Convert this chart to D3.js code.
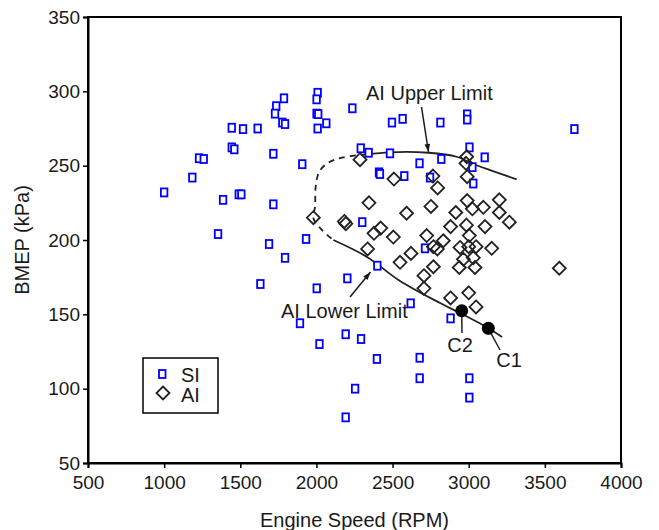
<!DOCTYPE html>
<html>
<head>
<meta charset="utf-8">
<script src="https://cdn.jsdelivr.net/npm/d3@7"></script>
<style>
  html, body { margin: 0; padding: 0; background: #fff; }
  svg text { font-family: "Liberation Sans", Arial, sans-serif; fill: #1a1a1a; }
</style>
</head>
<body>
<svg id="chart" width="659" height="530"></svg>
<script>
// SI engine operating points [rpm, bmep kPa]
const siPoints = [
  [1000, 232], [1185, 242], [1229, 255], [1260, 254.5], [1354, 204], [1387, 227],
  [1444, 275.5], [1444, 262.3], [1461, 261], [1490, 230.7], [1507, 230.7], [1518, 274.6],
  [1614, 275], [1632, 170.4], [1689, 197.3], [1717, 258], [1717, 224], [1736, 290],
  [1728, 285], [1776, 279], [1794, 278], [1787, 295.3], [1794, 188], [1892, 144],
  [1907, 251], [1932, 200.7], [2002, 167.5], [2008, 299], [2001, 294.6], [2001, 285],
  [2012, 284.7], [2008, 275], [2020, 130], [2065, 278.5], [2192, 136.6], [2192, 80.7],
  [2203, 174.2], [2236, 288.6], [2254, 100], [2291, 261.7], [2293, 133.4], [2301, 212],
  [2343, 258.7], [2397, 120], [2400, 182.7], [2411, 245.5], [2417, 244.4], [2483, 258.3],
  [2496, 279], [2566, 281.5], [2577, 243], [2619, 157.4], [2677, 251.6], [2678, 120.8],
  [2678, 107], [2713, 194.4], [2746, 242], [2814, 279], [2820, 254.5], [2881, 147.3],
  [2990, 284.5], [2990, 281], [3005, 262.3], [3004, 107], [3004, 94], [3024, 249],
  [3030, 238], [3105, 255.6], [3694, 274.6]
];

// AI (HCCI) operating points
const aiPoints = [
  [1980, 215], [2183, 212.5], [2193, 211], [2286, 254], [2336, 194], [2345, 225],
  [2378, 204.5], [2422, 208], [2505, 202], [2509, 241], [2549, 185], [2592, 218],
  [2621, 191], [2706, 176], [2706, 167.5], [2724, 203], [2752, 222.6], [2765, 243],
  [2768, 195.5], [2768, 182], [2796, 235], [2794, 194], [2833, 199.5], [2881, 209],
  [2881, 161], [2915, 218.5], [2943, 195], [2938, 181.5], [2965, 187], [2987, 256],
  [2982, 251.6], [2990, 242.6], [2990, 226.5], [2985, 210], [3004, 203], [3000, 195.5],
  [3000, 164.5], [3024, 221], [3030, 188], [3041, 181.5], [3048, 195.5], [3048, 155],
  [3096, 222], [3107, 209], [3151, 194.4], [3201, 227], [3201, 218.5], [3267, 212],
  [3595, 181]
];

// AI boundary lines
const upperLimit = [
  [2330, 257.6], [2483, 259], [2735, 258.7], [2921, 256], [3030, 251.1], [3140, 247], [3315, 240.8]
];
const dashedLimit = [
  [2330, 257.6], [2177, 255.6], [2078, 252], [2019, 246], [1995, 235.8], [1991, 222.4],
  [1980, 214.6], [2037, 206.7], [2111, 200]
];
const lowerLimit = [
  [2111, 200], [2332, 188.6], [2549, 172.4], [2812, 157.6], [2956, 150.2], [3127, 140.8], [3219, 134.7]
];

// marked cases
const casePoints = [
  { name: "C1", rpm: 3129, bmep: 140.6 },
  { name: "C2", rpm: 2954, bmep: 152.4 }
];

const xTicks = [500, 1000, 1500, 2000, 2500, 3000, 3500, 4000];
const yTicks = [50, 100, 150, 200, 250, 300, 350];

const svg = d3.select("#chart");
const margin = { left: 88, top: 17, right: 38, bottom: 67 };
const width = 659 - margin.left - margin.right;
const height = 530 - margin.top - margin.bottom;

const x = d3.scaleLinear().domain([500, 4000]).range([margin.left, margin.left + width]);
const y = d3.scaleLinear().domain([50, 350]).range([margin.top + height, margin.top]);

const defs = svg.append("defs");
defs.append("marker")
  .attr("id", "arrow")
  .attr("viewBox", "0 0 10 10")
  .attr("refX", 10)
  .attr("refY", 5)
  .attr("markerWidth", 14)
  .attr("markerHeight", 8)
  .attr("markerUnits", "userSpaceOnUse")
  .attr("orient", "auto")
  .append("path")
  .attr("d", "M0,1.5 L10,5 L0,8.5 Z")
  .attr("fill", "#1a1a1a");

// frame
svg.append("rect")
  .attr("x", margin.left)
  .attr("y", margin.top)
  .attr("width", width)
  .attr("height", height)
  .attr("fill", "none")
  .attr("stroke", "#000")
  .attr("stroke-width", 2);

const xAxis = svg.append("g")
  .attr("transform", `translate(0, ${margin.top + height})`)
  .call(d3.axisBottom(x).tickValues(xTicks).tickSize(5).tickPadding(8).tickFormat(d3.format("d")));
const yAxis = svg.append("g")
  .attr("transform", `translate(${margin.left}, 0)`)
  .call(d3.axisLeft(y).tickValues(yTicks).tickSize(5).tickPadding(3).tickFormat(d3.format("d")));

[xAxis, yAxis].forEach((a) => {
  a.select(".domain").attr("stroke-width", 2);
  a.selectAll(".tick line").attr("stroke-width", 1.5);
  a.selectAll(".tick text").attr("font-size", 19).attr("fill", "#1a1a1a")
    .style("font-family", "Liberation Sans, Arial, sans-serif");
});

svg.append("text")
  .attr("x", margin.left + width / 2)
  .attr("y", 527)
  .attr("text-anchor", "middle")
  .attr("font-size", 20)
  .text("Engine Speed (RPM)");

svg.append("text")
  .attr("transform", `translate(29, ${margin.top + height / 2}) rotate(-90)`)
  .attr("text-anchor", "middle")
  .attr("font-size", 20)
  .text("BMEP (kPa)");

// AI region boundary
const line = d3.line()
  .x((d) => x(d[0]))
  .y((d) => y(d[1]))
  .curve(d3.curveCatmullRom.alpha(0.5));

svg.append("path").datum(upperLimit).attr("d", line)
  .attr("fill", "none").attr("stroke", "#222").attr("stroke-width", 1.8);
svg.append("path").datum(dashedLimit).attr("d", line)
  .attr("fill", "none").attr("stroke", "#222").attr("stroke-width", 1.8)
  .attr("stroke-dasharray", "6,5");
svg.append("path").datum(lowerLimit).attr("d", line)
  .attr("fill", "none").attr("stroke", "#222").attr("stroke-width", 1.8);

// SI squares
svg.append("g")
  .selectAll("rect")
  .data(siPoints)
  .enter()
  .append("rect")
  .attr("x", (d) => x(d[0]) - 3.25)
  .attr("y", (d) => y(d[1]) - 4)
  .attr("width", 6.5)
  .attr("height", 8)
  .attr("fill", "#fff")
  .attr("stroke", "#0000ff")
  .attr("stroke-width", 1.8);

// AI diamonds
const diamond = "M0,-6.5 L6.5,0 L0,6.5 L-6.5,0 Z";
svg.append("g")
  .selectAll("path")
  .data(aiPoints)
  .enter()
  .append("path")
  .attr("transform", (d) => `translate(${x(d[0])}, ${y(d[1])})`)
  .attr("d", diamond)
  .attr("fill", "none")
  .attr("stroke", "#222")
  .attr("stroke-width", 1.8);

// C1 / C2 markers with leader lines
const labelPos = { C1: [500, 350, 509, 367], C2: [462, 333, 460, 352] };
casePoints.forEach((c) => {
  const cx = x(c.rpm);
  const cy = y(c.bmep);
  const p = labelPos[c.name];
  svg.append("line")
    .attr("x1", cx).attr("y1", cy).attr("x2", p[0]).attr("y2", p[1])
    .attr("stroke", "#222").attr("stroke-width", 1.5);
  svg.append("circle")
    .attr("cx", cx).attr("cy", cy).attr("r", 6.5)
    .attr("fill", "#000");
  svg.append("text")
    .attr("x", p[2]).attr("y", p[3])
    .attr("text-anchor", "middle")
    .attr("font-size", 20)
    .text(c.name);
});

// annotations
svg.append("text")
  .attr("x", 366).attr("y", 100)
  .attr("font-size", 20)
  .text("AI Upper Limit");
svg.append("line")
  .attr("x1", 421.5).attr("y1", 107).attr("x2", 428.5).attr("y2", 152)
  .attr("stroke", "#1a1a1a").attr("stroke-width", 1.5)
  .attr("marker-end", "url(#arrow)");

svg.append("text")
  .attr("x", 281).attr("y", 318)
  .attr("font-size", 20)
  .text("AI Lower Limit");
svg.append("line")
  .attr("x1", 350).attr("y1", 297).attr("x2", 370.5).attr("y2", 272)
  .attr("stroke", "#1a1a1a").attr("stroke-width", 1.5)
  .attr("marker-end", "url(#arrow)");

// legend
const legend = svg.append("g").attr("transform", "translate(143, 358)");
legend.append("rect")
  .attr("width", 75).attr("height", 55)
  .attr("fill", "#fff").attr("stroke", "#000").attr("stroke-width", 1.5);
legend.append("rect")
  .attr("x", 16).attr("y", 12).attr("width", 6.5).attr("height", 8)
  .attr("fill", "#fff").attr("stroke", "#0000ff").attr("stroke-width", 1.8);
legend.append("text").attr("x", 38).attr("y", 23.5).attr("font-size", 20).text("SI");
legend.append("path")
  .attr("transform", "translate(20, 35)")
  .attr("d", diamond)
  .attr("fill", "none").attr("stroke", "#222").attr("stroke-width", 1.8);
legend.append("text").attr("x", 38).attr("y", 43.5).attr("font-size", 20).text("AI");
</script>
</body>
</html>
